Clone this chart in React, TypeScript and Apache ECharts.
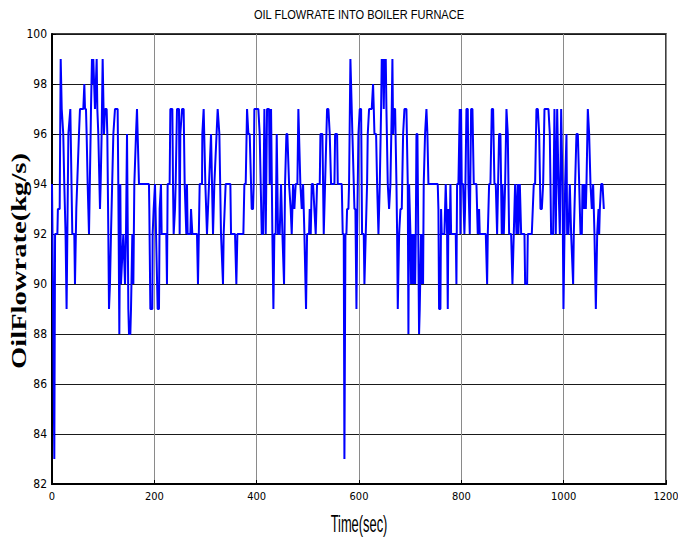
import React, { useEffect, useRef } from "react";
import * as echarts from "echarts";

const titleText = "OIL FLOWRATE INTO BOILER FURNACE";
const xAxisName = "Time(sec)";
const yAxisName = "OilFlowrate(kg/s)";

const timeSec: number[] = [
  0, 1, 4.5, 6, 10.5, 11.5, 15, 17, 19, 22, 24, 26.5, 28.5, 32, 35.8, 39.7, 43.6, 44.9, 47.5, 52.7,
  54.7, 61.2, 63.2, 64.5, 66.4, 67.7, 69.7, 71, 72.3, 75.5, 76.2, 78.1, 79.4, 80.7, 84, 87.3, 88.6, 90.5, 93.8, 95.1,
  97, 99, 100.3, 101.6, 103.6, 106.8, 108.1, 110.1, 111.4, 113.3, 115.3, 119.9, 123.1, 128.3, 129.6, 131.6, 133.5, 134.8, 139.4, 142.7,
  144.6, 146.6, 149.2, 150.5, 153.1, 154.4, 157, 159, 160.9, 164.2, 166.1, 167.4, 170,
  189.5, 190.2, 192.2, 196.1, 196.7, 198.7, 201.3, 206.5, 209.1, 210.4, 213, 214.3, 223.4, 224.7, 226, 229.9, 231.3, 235.2, 236.5, 237.8,
  240.4, 241.7, 244.3, 248.2, 249.5, 250.8, 254.1, 257.3, 259.3, 262.5, 263.8, 265.1, 270.4, 271.7, 274.3, 283.4, 285.3, 288.6, 293.2, 293.8,
  296.4, 299.7, 302.9, 310.8, 314.7, 317.3, 323.8, 327.1, 330.3, 334.2, 335.5, 339.4, 348.6, 349.9,
  357.7, 360.3, 362.3, 374, 376, 378.6, 381.2, 383.8, 386.4, 389, 390.3, 392.9, 394.2, 395.5, 403.3, 405.9, 409.9, 412.5, 415.1, 417.7,
  420.3, 424.2, 425.5, 428.1, 430.7, 432.7, 434.6, 437.2, 439.2, 441.8, 445, 447.6, 450.3, 453.5, 455.5, 458.1, 460, 463.3, 466.5, 468.5,
  471.1, 473.7, 476.3, 479.6, 481.5, 485.4, 488.1, 490.7, 493.3, 496.5, 498.5, 502.4, 503.7, 505.7, 507.6, 510.2, 512.8, 515.4, 518, 523.3,
  524.6, 528.5, 531.1, 533.7, 537.6,
  540.2, 542.8, 545.4, 552, 553.3, 557.2, 558.5, 566.3, 568.2, 570.2, 571.5, 573.5, 575.4, 576.7, 579.3, 580.6, 583.2, 587.1, 589.8, 591.1,
  593, 595, 596.3, 598.9, 601.5, 604.1, 606, 609.3, 610.6, 613.2, 615.8, 617.1, 619.7, 624.9, 627.5, 628.9, 630.2, 633.4, 635.4, 638,
  640.6, 643.2, 644.5, 645.8, 647.1, 648.4, 649.7, 651, 652.3, 653.6, 654.9, 656.2, 658.8, 661.4, 664, 665.3, 666.7, 668, 670.6, 673.2,
  674.5, 675.8, 678.4, 681, 683.6, 686.2, 688.8, 692.7, 695.3, 696.6, 697.9, 700.5, 701.8, 704.4, 705.8, 707.1, 708.4, 709.7, 711, 712.3,
  714.2,
  717.4, 718.7, 721.3, 722.6, 723.9, 725.2, 726.5, 729.1, 731.8, 733.7, 735.7, 753.9, 755.2, 756.5, 759.1, 760.4, 761.7, 766.9, 768.2, 769.5,
  772.2, 773.5, 774.8, 777.4, 778.7, 780, 789.1, 790.4, 791.7, 794.3, 796.9, 798.2, 799.5, 800.8, 803.4, 806, 807.3, 810, 812.6, 813.9,
  816.5, 819.1, 821.7, 824.3, 829.5, 832.1, 834.7, 836, 847.8, 850.4, 851.7, 854.3, 856.9, 859.5, 862.1, 864.7, 867.3, 869.9, 873.8, 876.4,
  879, 880.3, 883, 885.6, 888.2, 890.8, 893.4,
  894.7, 897.3, 899.9, 902.5, 905.1, 907.7, 910.3, 911.6, 914.3, 916.9, 923.4, 924.7, 928.6, 929.9, 937.7, 941.6, 944.2, 946.8, 949.5, 952.1,
  954.7, 957.3, 959.9, 962.5, 970.3, 972.9, 975.5, 979.4, 982, 984.6, 987.3, 989.9, 992.5, 995.1, 997.7, 999.6, 1001.6, 1002.9, 1005.5, 1006.8,
  1009.4, 1012, 1014.6, 1015.9, 1018.5, 1019.8, 1022.4, 1025, 1027.7, 1030.3, 1032.9, 1035.5, 1036.8, 1039.4, 1040.7, 1043.3, 1044.6, 1047.2, 1049.8, 1052.4,
  1055, 1057.6, 1060.2, 1062.9, 1065.5, 1068.1, 1069.4, 1070.7, 1073.3, 1075.9, 1078.5,
];

const flowRate: number[] = [
  94, 92, 83, 92, 92, 93, 93, 99, 97, 96, 94, 92, 89, 96, 97, 92, 92, 90, 93, 96,
  97, 97, 98, 97, 97, 96, 94, 93, 92, 96, 97, 99, 98, 99, 97, 99, 97, 96, 93, 94,
  96, 99, 99, 96, 97, 97, 96, 92, 89, 90, 92, 96, 97, 97, 94, 88, 94, 90, 92, 90,
  92, 96, 89, 88, 88, 89, 92, 90, 94, 96, 97, 96, 94,
  94, 93, 89, 89, 92, 93, 94, 89, 89, 93, 94, 92, 92, 90, 94, 94, 97, 97, 94, 92,
  93, 94, 97, 97, 92, 96, 97, 97, 94, 92, 94, 92, 92, 93, 92, 92, 90, 94, 94, 96,
  97, 94, 92, 96, 92, 94, 97, 96, 92, 90, 92, 94, 94, 92,
  92, 90, 92, 92, 94, 94, 97, 96, 96, 94, 93, 93, 94, 97, 97, 96, 92, 92, 97, 92,
  97, 97, 94, 97, 92, 89, 92, 92, 96, 92, 92, 94, 92, 90, 94, 96, 96, 94, 93, 92,
  94, 93, 94, 94, 97, 94, 93, 94, 92, 89, 92, 92, 93, 92, 94, 94, 93, 92, 94, 94,
  96, 96, 92, 94, 97,
  97, 96, 94, 94, 96, 96, 94, 94, 92, 92, 83, 92, 92, 93, 93, 94, 99, 96, 94, 93,
  93, 89, 92, 96, 97, 97, 92, 92, 90, 92, 94, 96, 97, 97, 98, 97, 96, 96, 94, 92,
  94, 97, 99, 98, 99, 97, 99, 98, 99, 97, 97, 94, 93, 94, 97, 99, 96, 97, 97, 94,
  92, 89, 92, 93, 93, 96, 97, 97, 94, 88, 94, 92, 90, 92, 90, 92, 92, 90, 92, 96,
  96,
  88, 89, 92, 90, 92, 90, 94, 96, 97, 96, 94, 94, 93, 89, 89, 93, 92, 92, 93, 94,
  92, 89, 93, 92, 94, 92, 92, 90, 94, 94, 97, 92, 97, 94, 94, 92, 93, 97, 97, 94,
  92, 97, 97, 94, 94, 92, 93, 92, 92, 90, 92, 94, 94, 97, 97, 94, 94, 92, 96, 96,
  92, 94, 92, 94, 97, 96, 92,
  92, 92, 90, 92, 94, 92, 94, 92, 94, 92, 92, 90, 90, 92, 92, 94, 94, 97, 97, 96,
  93, 93, 94, 97, 97, 96, 92, 92, 97, 92, 97, 94, 92, 97, 94, 89, 92, 94, 96, 92,
  92, 94, 92, 92, 90, 92, 94, 96, 96, 94, 92, 92, 94, 93, 94, 93, 94, 97, 96, 94,
  93, 94, 92, 89, 92, 93, 92, 93, 94, 94, 93,
];

const xTicks = { min: 0, max: 1200, interval: 200 };
const yTicks = { min: 82, max: 100, interval: 2 };

const narrowFont = '"Liberation Sans Narrow", "DejaVu Sans Condensed", "Liberation Sans", sans-serif';

export default function App() {
  const ref = useRef<HTMLDivElement>(null);

  useEffect(() => {
    if (!ref.current) return;
    const chart = echarts.init(ref.current, null, { renderer: "svg" });
    const points = timeSec.map((t, i) => [t, flowRate[i]]);
    chart.setOption({
      animation: false,
      backgroundColor: "#ffffff",
      graphic: [
        {
          type: "text",
          x: 359,
          y: 8,
          scaleX: 0.85,
          style: {
            text: titleText,
            fontFamily: '"Liberation Sans", sans-serif',
            fontSize: 13,
            fill: "#000",
            align: "center",
            verticalAlign: "top",
          },
        },
        {
          type: "text",
          x: 359,
          y: 512,
          scaleX: 0.56,
          style: {
            text: xAxisName,
            fontFamily: '"Liberation Sans", sans-serif',
            fontSize: 23,
            fill: "#000",
            align: "center",
            verticalAlign: "top",
          },
        },
        {
          type: "text",
          x: 19,
          y: 261,
          rotation: Math.PI / 2,
          scaleX: 1.3,
          style: {
            text: yAxisName,
            fontFamily: '"Liberation Serif", "DejaVu Serif", serif',
            fontWeight: "bold",
            fontSize: 22,
            fill: "#000",
            align: "center",
            verticalAlign: "middle",
          },
        },
      ],
      grid: {
        left: 52,
        right: 12,
        top: 34,
        bottom: 60,
        outerBoundsMode: "none",
        containLabel: false,
        show: true,
        borderColor: "#000",
        borderWidth: 1.5,
        backgroundColor: "#fff",
      },
      xAxis: {
        type: "value",
        min: xTicks.min,
        max: xTicks.max,
        interval: xTicks.interval,
        axisLine: { show: true, onZero: false, lineStyle: { color: "#000", width: 2 } },
        axisTick: { show: true, inside: true, length: 4, lineStyle: { color: "#000" } },
        axisLabel: {
          fontFamily: narrowFont,
          fontSize: 11,
          color: "#000",
          margin: 7,
          formatter: (v: number) => String(v),
        },
        splitLine: { show: true, lineStyle: { color: "#8a8a8a", width: 1 } },
      },
      yAxis: {
        type: "value",
        min: yTicks.min,
        max: yTicks.max,
        interval: yTicks.interval,
        axisLine: { show: true, onZero: false, lineStyle: { color: "#000", width: 2 } },
        axisTick: { show: true, inside: true, length: 4, lineStyle: { color: "#000" } },
        axisLabel: {
          fontFamily: narrowFont,
          fontSize: 12,
          color: "#000",
          margin: 5,
          formatter: (v: number) => String(v),
        },
        splitLine: { show: true, lineStyle: { color: "#1a1a1a", width: 1 } },
      },
      series: [
        {
          type: "line",
          data: points,
          showSymbol: false,
          symbol: "none",
          lineStyle: { color: "#0000ff", width: 2 },
          itemStyle: { color: "#0000ff" },
        },
      ],
    });
    return () => chart.dispose();
  }, []);

  return (
    <div
      ref={ref}
      style={{ position: "fixed", left: 0, top: 0, width: 678, height: 544 }}
    />
  );
}
